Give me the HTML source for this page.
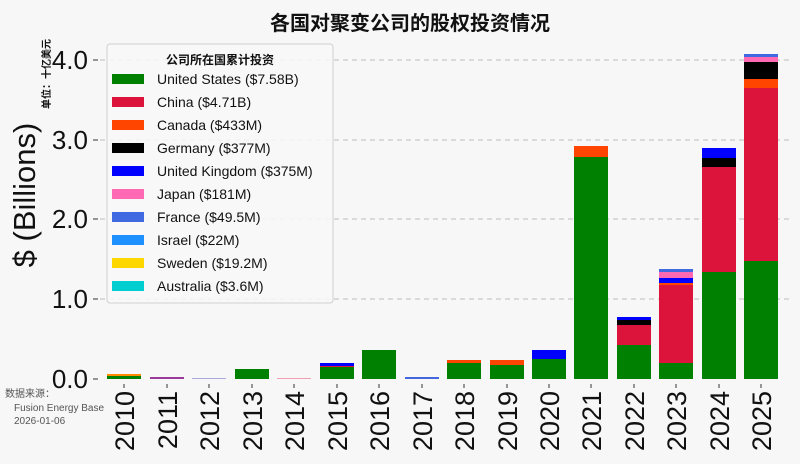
<!DOCTYPE html>
<html><head><meta charset="utf-8"><style>
html,body{margin:0;padding:0;background:#f7f7f7;}
svg{display:block;font-family:"Liberation Sans","Noto Sans CJK SC",sans-serif;}
</style></head><body>
<svg width="800" height="464" viewBox="0 0 800 464" xmlns="http://www.w3.org/2000/svg">
<rect width="800" height="464" fill="#f7f7f7"/>
<text x="410" y="30" font-size="20" font-weight="bold" text-anchor="middle" fill="#111">各国对聚变公司的股权投资情况</text>
<g stroke="#c8c8c8" stroke-dasharray="5,4" stroke-width="1.2">
<line x1="100" y1="60" x2="790" y2="60"/><line x1="100" y1="140" x2="790" y2="140"/>
<line x1="100" y1="219" x2="790" y2="219"/><line x1="100" y1="299" x2="790" y2="299"/>
</g>
<g font-size="26" fill="#111" text-anchor="end">
<text x="88" y="69">4.0</text><text x="88" y="149">3.0</text><text x="88" y="228">2.0</text><text x="88" y="308">1.0</text><text x="88" y="388">0.0</text>
</g>
<g stroke="#555" stroke-width="1.2">
<line x1="93" y1="60" x2="98" y2="60"/><line x1="93" y1="140" x2="98" y2="140"/><line x1="93" y1="219" x2="98" y2="219"/><line x1="93" y1="299" x2="98" y2="299"/><line x1="93" y1="379" x2="98" y2="379"/>
</g>
<text transform="translate(35,195) rotate(-90)" font-size="31" text-anchor="middle" fill="#111">$ (Billions)</text>
<text transform="translate(50,74) rotate(-90)" font-size="10" font-weight="bold" text-anchor="middle" fill="#111">单位：十亿美元</text>
<g>
<rect x="107" y="376" width="34" height="3" fill="#008000"/><rect x="107" y="374" width="34" height="2" fill="#ff8c00"/>
<rect x="150" y="377" width="34" height="2" fill="#9b3b9b"/>
<rect x="192" y="378" width="34" height="1" fill="#aaaadd"/>
<rect x="235" y="369" width="34" height="10" fill="#008000"/>
<rect x="277" y="378" width="34" height="1" fill="#f0a0b0"/>
<rect x="320" y="367" width="34" height="12" fill="#008000"/><rect x="320" y="366" width="34" height="1" fill="#dc143c"/><rect x="320" y="363" width="34" height="3" fill="#0000ff"/>
<rect x="362" y="350" width="34" height="29" fill="#008000"/>
<rect x="405" y="377" width="34" height="2" fill="#4466dd"/>
<rect x="447" y="363" width="34" height="16" fill="#008000"/><rect x="447" y="360" width="34" height="3" fill="#ff4500"/>
<rect x="490" y="365" width="34" height="14" fill="#008000"/><rect x="490" y="360" width="34" height="5" fill="#ff4500"/>
<rect x="532" y="359" width="34" height="20" fill="#008000"/><rect x="532" y="350" width="34" height="9" fill="#0000ff"/>
<rect x="574" y="157" width="34" height="222" fill="#008000"/><rect x="574" y="146" width="34" height="11" fill="#ff4500"/>
<rect x="617" y="345" width="34" height="34" fill="#008000"/><rect x="617" y="325" width="34" height="20" fill="#dc143c"/><rect x="617" y="320" width="34" height="5" fill="#000"/><rect x="617" y="317" width="34" height="3" fill="#0000ff"/>
<rect x="659" y="363" width="34" height="16" fill="#008000"/><rect x="659" y="285" width="34" height="78" fill="#dc143c"/><rect x="659" y="283" width="34" height="2" fill="#ff4500"/><rect x="659" y="278" width="34" height="5" fill="#0000ff"/><rect x="659" y="272" width="34" height="6" fill="#ff69b4"/><rect x="659" y="269" width="34" height="3" fill="#4169e1"/>
<rect x="702" y="272" width="34" height="107" fill="#008000"/><rect x="702" y="167" width="34" height="105" fill="#dc143c"/><rect x="702" y="158" width="34" height="9" fill="#000"/><rect x="702" y="148" width="34" height="10" fill="#0000ff"/>
<rect x="744" y="261" width="34" height="118" fill="#008000"/><rect x="744" y="88" width="34" height="173" fill="#dc143c"/><rect x="744" y="79" width="34" height="9" fill="#ff4500"/><rect x="744" y="62" width="34" height="17" fill="#000"/><rect x="744" y="57" width="34" height="5" fill="#ff69b4"/><rect x="744" y="54" width="34" height="3" fill="#4169e1"/>
</g>
<g stroke="#555" stroke-width="1.2">
<line x1="124" y1="384" x2="124" y2="388"/><line x1="167" y1="384" x2="167" y2="388"/><line x1="209" y1="384" x2="209" y2="388"/><line x1="252" y1="384" x2="252" y2="388"/><line x1="294" y1="384" x2="294" y2="388"/><line x1="337" y1="384" x2="337" y2="388"/><line x1="379" y1="384" x2="379" y2="388"/><line x1="422" y1="384" x2="422" y2="388"/><line x1="464" y1="384" x2="464" y2="388"/><line x1="507" y1="384" x2="507" y2="388"/><line x1="549" y1="384" x2="549" y2="388"/><line x1="591" y1="384" x2="591" y2="388"/><line x1="634" y1="384" x2="634" y2="388"/><line x1="676" y1="384" x2="676" y2="388"/><line x1="719" y1="384" x2="719" y2="388"/><line x1="761" y1="384" x2="761" y2="388"/>
</g>
<g font-size="27" fill="#111" text-anchor="end">
<text transform="translate(134,391) rotate(-90)">2010</text>
<text transform="translate(177,391) rotate(-90)">2011</text>
<text transform="translate(219,391) rotate(-90)">2012</text>
<text transform="translate(262,391) rotate(-90)">2013</text>
<text transform="translate(304,391) rotate(-90)">2014</text>
<text transform="translate(347,391) rotate(-90)">2015</text>
<text transform="translate(389,391) rotate(-90)">2016</text>
<text transform="translate(432,391) rotate(-90)">2017</text>
<text transform="translate(474,391) rotate(-90)">2018</text>
<text transform="translate(517,391) rotate(-90)">2019</text>
<text transform="translate(559,391) rotate(-90)">2020</text>
<text transform="translate(601,391) rotate(-90)">2021</text>
<text transform="translate(644,391) rotate(-90)">2022</text>
<text transform="translate(686,391) rotate(-90)">2023</text>
<text transform="translate(729,391) rotate(-90)">2024</text>
<text transform="translate(771,391) rotate(-90)">2025</text>
</g>
<g font-size="10" fill="#555">
<text x="5" y="397">数据来源：</text><text x="14" y="411">Fusion Energy Base</text><text x="14" y="424">2026-01-06</text>
</g>
<rect x="107" y="44" width="226" height="259" rx="3" fill="#f7f7f7" fill-opacity="0.9" stroke="#d0d0d0"/>
<text x="220" y="64" font-size="12" font-weight="bold" text-anchor="middle" fill="#111">公司所在国累计投资</text>
<g font-size="14" fill="#111">
<rect x="112" y="74" width="32" height="10" fill="#008000"/><text x="157" y="84">United States ($7.58B)</text>
<rect x="112" y="97" width="32" height="10" fill="#dc143c"/><text x="157" y="107">China ($4.71B)</text>
<rect x="112" y="120" width="32" height="10" fill="#ff4500"/><text x="157" y="130">Canada ($433M)</text>
<rect x="112" y="143" width="32" height="10" fill="#000"/><text x="157" y="153">Germany ($377M)</text>
<rect x="112" y="166" width="32" height="10" fill="#0000ff"/><text x="157" y="176">United Kingdom ($375M)</text>
<rect x="112" y="189" width="32" height="10" fill="#ff69b4"/><text x="157" y="199">Japan ($181M)</text>
<rect x="112" y="212" width="32" height="10" fill="#4169e1"/><text x="157" y="222">France ($49.5M)</text>
<rect x="112" y="235" width="32" height="10" fill="#1e90ff"/><text x="157" y="245">Israel ($22M)</text>
<rect x="112" y="258" width="32" height="10" fill="#ffd700"/><text x="157" y="268">Sweden ($19.2M)</text>
<rect x="112" y="281" width="32" height="10" fill="#00ced1"/><text x="157" y="291">Australia ($3.6M)</text>
</g>
</svg>
</body></html>
